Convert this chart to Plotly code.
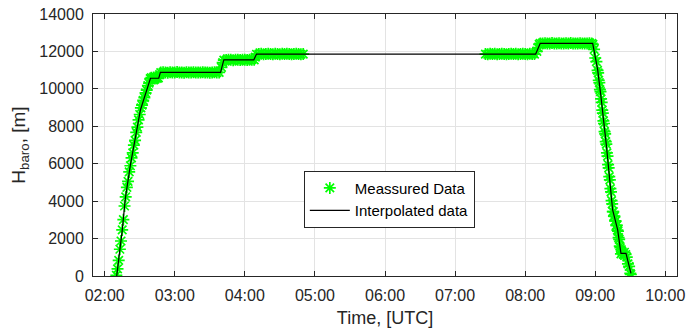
import pandas as pd
import plotly.graph_objects as go

# ---- data (minutes after 02:00 UTC, altitude in m) ----
meas_min = (
    list(range(10, 48))
    + list(range(48, 100, 2)) + [100, 101, 102]
    + list(range(104, 129, 2)) + [129, 130]
    + list(range(132, 171, 2))
    + list(range(326, 369, 2)) + [370, 371, 372, 373]
    + list(range(375, 418, 2))
    + [418, 419, 420, 421, 422, 422.5, 423, 423.5, 424, 424.5, 425, 425.5, 426, 426.5,
       427, 427.5, 428, 428.5, 429, 429.5, 430, 430.5, 431, 431.5, 432, 432.5, 433,
       433.5, 434, 434.5, 435, 435.5, 436, 436.5, 437, 437.5, 438, 438.5, 439, 439.5,
       440, 440.5, 441, 441.5, 442, 443, 444, 445, 446, 447, 448, 449, 450, 450.5]
)
meas_alt = (
    [40, 380, 830, 1430, 1870, 2460, 3010, 3740, 4230, 4740, 5060, 5560, 5890, 6310,
     6580, 6990, 7250, 7670, 7950, 8340, 8630, 8980, 9130, 9380, 9530, 9780, 9930,
     10180, 10310, 10550, 10600, 10540, 10610, 10550, 10580, 10560, 10590, 10760]
    + [10870, 10890, 10880, 10860, 10890, 10870, 10880, 10900, 10870, 10880, 10860,
       10890, 10880, 10870, 10890, 10880, 10870, 10880, 10890, 10870, 10880, 10860,
       10880, 10890, 10870, 10880]
    + [11150, 11400, 11530]
    + [11540, 11560, 11550, 11530, 11560, 11550, 11540, 11560, 11550, 11540, 11550,
       11560, 11550]
    + [11700, 11850]
    + [11860, 11870, 11850, 11860, 11880, 11860, 11850, 11870, 11860, 11850, 11870,
       11860, 11880, 11860, 11850, 11860, 11870, 11860, 11850, 11860]
    + [11860, 11850, 11870, 11860, 11880, 11850, 11860, 11870, 11860, 11850, 11860,
       11870, 11860, 11880, 11850, 11860, 11870, 11860, 11850, 11870, 11860, 11860]
    + [12000, 12200, 12380, 12430]
    + [12430, 12440, 12420, 12430, 12450, 12430, 12420, 12440, 12430, 12420, 12440,
       12430, 12450, 12430, 12420, 12430, 12440, 12430, 12420, 12430, 12440, 12430]
    + [12380, 12110, 11650, 11450, 10990, 10850, 10460, 10330, 9960, 9850, 9470, 9280,
       8860, 8700, 8290, 8150, 7710, 7590, 7180, 7050, 6580, 6410, 5950, 5780, 5310,
       5140, 4670, 4500, 4030, 3850, 3440, 3440, 3200, 3190, 2950, 2940, 2700, 2700,
       2450, 2390, 2050, 1960, 1600, 1510, 1180, 1270, 1160, 1270, 1150, 1010, 650,
       510, 140, 80]
)

interp_min = [10.3, 14.9, 17.7, 22.0, 30.6, 39.2, 46.3, 47.7, 99.2, 102.0, 127.7,
              130.0, 369.0, 372.9, 417.8, 422.1, 424.9, 429.5, 434.9, 439.2, 442.0,
              446.3, 450.6]
interp_alt = [0, 2370, 4150, 5930, 8870, 10566, 10566, 10880, 10880, 11550, 11550,
              11860, 11860, 12430, 12430, 11010, 9583, 7000, 3530, 2460, 1213,
              1213, 144]

base = pd.Timestamp("2021-01-01 02:00:00")
meas_t = base + pd.to_timedelta(meas_min, unit="min")
interp_t = base + pd.to_timedelta(interp_min, unit="min")

font_family = "Liberation Sans, Arial, sans-serif"

fig = go.Figure()
fig.add_trace(go.Scatter(
    x=meas_t, y=meas_alt, mode="markers", name="Meassured Data",
    marker=dict(symbol="asterisk-open", size=10, color="#00ff00",
                line=dict(color="#00ff00", width=1.7)),
))
fig.add_trace(go.Scatter(
    x=interp_t, y=interp_alt, mode="lines", name="Interpolated data",
    line=dict(color="black", width=1.2),
))

axis_common = dict(
    showline=True, linecolor="#262626", linewidth=1, mirror="ticks",
    ticks="inside", ticklen=5, tickcolor="#262626",
    showgrid=True, gridcolor="#e3e3e3", gridwidth=1, zeroline=False,
    tickfont=dict(family=font_family, size=16, color="#262626"),
    automargin=False,
)

fig.update_layout(
    width=688, height=330,
    margin=dict(l=93, r=11, t=14, b=54),
    paper_bgcolor="white", plot_bgcolor="white",
    font=dict(family=font_family, color="#262626"),
    showlegend=True,
    legend=dict(x=0.361, y=0.402, xanchor="left", yanchor="top",
                bordercolor="#262626", borderwidth=1, bgcolor="white",
                font=dict(family=font_family, size=15, color="black"),
                tracegroupgap=0, itemwidth=40),
    xaxis=dict(
        **axis_common, type="date",
        range=[base - pd.Timedelta(minutes=10), base + pd.Timedelta(hours=8, minutes=10)],
        dtick=3600000, tick0=base, tickformat="%H:%M", ticklabelstandoff=5,
        title=dict(text="Time, [UTC]", font=dict(family=font_family, size=18, color="#262626"),
                   standoff=8),
    ),
    yaxis=dict(
        **axis_common, range=[0, 14000], dtick=2000, tickformat="d", ticklabelstandoff=5,
        title=dict(text="H<sub>baro</sub>, [m]", font=dict(family=font_family, size=19, color="#262626"),
                   standoff=8),
    ),
)

fig.write_html("out.html")
